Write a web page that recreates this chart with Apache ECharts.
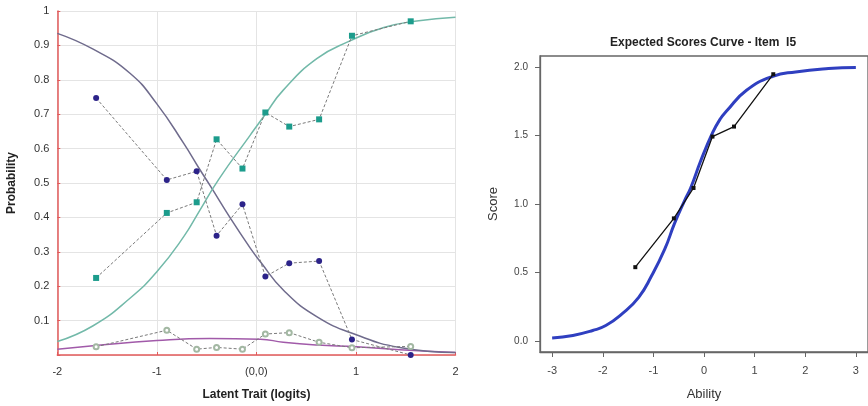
<!DOCTYPE html>
<html>
<head>
<meta charset="utf-8">
<script src="https://cdn.jsdelivr.net/npm/echarts@6/dist/echarts.min.js"></script>
<style>html,body{margin:0;padding:0;background:#fff}#c{width:868px;height:406px}</style>
</head>
<body>
<div id="c"></div>
<script>
// ---- Left chart: category probability curves ----
const obsLogits = [-1.61, -0.90, -0.60, -0.40, -0.14, 0.09, 0.33, 0.63, 0.96, 1.55];
const obsCat0 = [0.747, 0.509, 0.534, 0.347, 0.438, 0.228, 0.267, 0.273, 0.045, 0.0];
const obsCat1 = [0.024, 0.072, 0.017, 0.022, 0.017, 0.061, 0.065, 0.037, 0.021, 0.025];
const obsCat2 = [0.224, 0.413, 0.444, 0.627, 0.542, 0.705, 0.664, 0.685, 0.928, 0.970];

const cat0Logits = [-2, -1.64, -1.27, -1, -0.73, -0.57, -0.46, -0.26, -0.06, 0.04, 0.27, 0.61, 1.01, 1.44, 2];
const cat0Curve  = [0.935, 0.889, 0.819, 0.73, 0.615, 0.54, 0.49, 0.397, 0.31, 0.271, 0.189, 0.111, 0.058, 0.022, 0.007];
const cat1Logits = [-2, -1.64, -1, -0.47, 0.04, 0.27, 0.61, 1.01, 1.44, 2];
const cat1Curve  = [0.017, 0.027, 0.042, 0.048, 0.046, 0.037, 0.029, 0.024, 0.015, 0.007];
const cat2Logits = [-2, -1.64, -1.27, -1, -0.73, -0.57, -0.38, -0.06, 0.09, 0.27, 0.61, 0.94, 1.28, 1.61, 2];
const cat2Curve  = [0.039, 0.085, 0.165, 0.242, 0.344, 0.42, 0.51, 0.64, 0.70, 0.77, 0.862, 0.913, 0.952, 0.971, 0.982];

const leftXTicks = [-2, -1, 0, 1, 2];
const leftXTickLabels = ['-2', '-1', '(0,0)', '1', '2'];

// ---- Right chart: expected scores curve ----
const abilityCurveX = [-3.0, -2.59, -2.2, -1.94, -1.62, -1.29, -1.035, -0.776, -0.58, -0.39, -0.26, -0.07, 0.17, 0.32, 0.45, 0.84, 1.36, 1.81, 2.46, 3.0];
const scoreCurve    = [0.022, 0.041, 0.077, 0.113, 0.198, 0.319, 0.476, 0.67, 0.86, 1.02, 1.12, 1.31, 1.52, 1.62, 1.68, 1.83, 1.932, 1.964, 1.988, 1.996];
const abilityObs = [-1.357, -0.595, -0.207, 0.167, 0.593, 1.369];
const scoreObs   = [0.539, 0.895, 1.117, 1.492, 1.565, 1.947];
const rightXTicks = [-3, -2, -1, 0, 1, 2, 3];
const rightYTicks = [0, 0.5, 1, 1.5, 2];

const zip = (xs, ys) => xs.map((x, i) => [x, ys[i]]);
const FONT = 'Liberation Sans, Arial, sans-serif';
const RED = '#e25a5a';

const chart = echarts.init(document.getElementById('c'), null, {renderer: 'canvas'});
const obsLine = {color: '#7a7a7a', width: 1, type: [3, 2]};

chart.setOption({
  animation: false,
  backgroundColor: '#fff',
  title: {
    text: 'Expected Scores Curve - Item  I5',
    left: 605, top: 32,
    textStyle: {fontFamily: FONT, fontSize: 12, fontWeight: 'bold', color: '#222'}
  },
  grid: [
    {left: 57.3, right: 412.5, top: 11, bottom: 51},
    {left: 540, right: -6, top: 56, bottom: 52.7, show: true, borderColor: '#666', borderWidth: 1.3, backgroundColor: 'transparent'}
  ],
  xAxis: [
    {
      gridIndex: 0, type: 'value', min: -2, max: 2, interval: 1,
      name: 'Latent Trait (logits)', nameLocation: 'middle', nameGap: 34,
      nameTextStyle: {fontFamily: FONT, fontSize: 12, fontWeight: 'bold', color: '#222'},
      axisLine: {onZero: false, lineStyle: {color: RED, width: 1.5}},
      axisTick: {inside: true, length: 3, lineStyle: {color: RED}},
      axisLabel: {margin: 11, fontFamily: FONT, fontSize: 11, color: '#333',
        formatter: v => { const i = leftXTicks.indexOf(v); return i >= 0 ? leftXTickLabels[i] : ''; }},
      splitLine: {show: true, lineStyle: {color: '#e4e4e4', width: 1}}
    },
    {
      gridIndex: 1, type: 'value', min: -3.24, max: 3.24,
      name: 'Ability', nameLocation: 'middle', nameGap: 36,
      nameTextStyle: {fontFamily: FONT, fontSize: 13, color: '#333'},
      axisLine: {onZero: false, lineStyle: {color: '#666', width: 1.3}},
      axisTick: {show: true, inside: false, length: 5, customValues: rightXTicks, lineStyle: {color: '#666'}},
      axisLabel: {margin: 13, fontFamily: FONT, fontSize: 11, color: '#444', customValues: rightXTicks,
        formatter: v => String(v)},
      splitLine: {show: false}
    }
  ],
  yAxis: [
    {
      gridIndex: 0, type: 'value', min: 0, max: 1, interval: 0.1,
      name: 'Probability', nameLocation: 'middle', nameGap: 40,
      nameTextStyle: {fontFamily: FONT, fontSize: 12, fontWeight: 'bold', color: '#222'},
      axisLine: {show: true, onZero: false, lineStyle: {color: RED, width: 1.5}},
      axisTick: {show: true, inside: true, length: 3, lineStyle: {color: RED}},
      axisLabel: {margin: 8, fontFamily: FONT, fontSize: 11, color: '#333',
        formatter: v => v === 0 ? '' : String(Math.round(v * 10) / 10)},
      splitLine: {show: true, lineStyle: {color: '#e4e4e4', width: 1}}
    },
    {
      gridIndex: 1, type: 'value', min: -0.08, max: 2.08,
      name: 'Score', nameLocation: 'middle', nameGap: 40,
      nameTextStyle: {fontFamily: FONT, fontSize: 13, color: '#333'},
      axisLine: {show: true, onZero: false, lineStyle: {color: '#666', width: 1.3}},
      axisTick: {show: true, inside: false, length: 5, customValues: rightYTicks, lineStyle: {color: '#666'}},
      axisLabel: {margin: 12, fontFamily: FONT, fontSize: 10, color: '#444', customValues: rightYTicks,
        formatter: v => v.toFixed(1)},
      splitLine: {show: false}
    }
  ],
  series: [
    {type: 'line', xAxisIndex: 0, yAxisIndex: 0, data: zip(cat1Logits, cat1Curve), smooth: 0.5,
      showSymbol: false, lineStyle: {color: '#a15aa9', width: 1.5}, z: 2},
    {type: 'line', xAxisIndex: 0, yAxisIndex: 0, data: zip(cat0Logits, cat0Curve), smooth: 0.5,
      showSymbol: false, lineStyle: {color: '#6f6b8c', width: 1.5}, z: 2},
    {type: 'line', xAxisIndex: 0, yAxisIndex: 0, data: zip(cat2Logits, cat2Curve), smooth: 0.5,
      showSymbol: false, lineStyle: {color: '#72b9a9', width: 1.5}, z: 2},
    {type: 'line', xAxisIndex: 0, yAxisIndex: 0, data: zip(obsLogits, obsCat1),
      symbol: 'emptyCircle', symbolSize: 5, showAllSymbol: true, lineStyle: obsLine,
      itemStyle: {color: '#a3b8a3', borderColor: '#a3b8a3', borderWidth: 1}, z: 3},
    {type: 'line', xAxisIndex: 0, yAxisIndex: 0, data: zip(obsLogits, obsCat0),
      symbol: 'circle', symbolSize: 6, showAllSymbol: true, lineStyle: obsLine,
      itemStyle: {color: '#2c2389'}, z: 4},
    {type: 'line', xAxisIndex: 0, yAxisIndex: 0, data: zip(obsLogits, obsCat2),
      symbol: 'rect', symbolSize: 6, showAllSymbol: true, lineStyle: obsLine,
      itemStyle: {color: '#1c9c8c'}, z: 4},
    {type: 'line', xAxisIndex: 1, yAxisIndex: 1, data: zip(abilityCurveX, scoreCurve), smooth: 0.5,
      showSymbol: false, lineStyle: {color: '#2f3fc0', width: 3}, z: 2},
    {type: 'line', xAxisIndex: 1, yAxisIndex: 1, data: zip(abilityObs, scoreObs),
      symbol: 'rect', symbolSize: 4, showAllSymbol: true, lineStyle: {color: '#111', width: 1.3},
      itemStyle: {color: '#111'}, z: 3}
  ]
});
</script>
</body>
</html>
